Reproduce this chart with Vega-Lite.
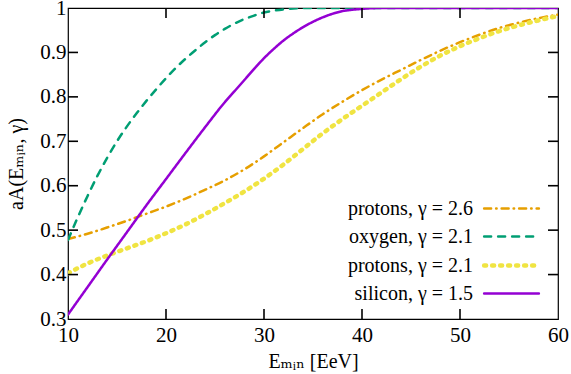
{
  "$schema": "https://vega.github.io/schema/vega-lite/v6.json",
  "width": 490,
  "height": 311,
  "autosize": "none",
  "padding": {"left": 68, "top": 8, "right": 13, "bottom": 55},
  "background": "white",
  "config": {
    "font": "Liberation Serif, Times New Roman, DejaVu Serif, serif",
    "view": {"stroke": "black", "strokeWidth": 1.2},
    "axis": {
      "grid": false,
      "domain": false,
      "ticks": false,
      "labelFont": "Liberation Serif, Times New Roman, DejaVu Serif, serif",
      "labelFontSize": 21,
      "labelColor": "black",
      "titleFont": "Liberation Serif, Times New Roman, DejaVu Serif, serif",
      "titleFontSize": 20,
      "titleFontWeight": "normal",
      "titleColor": "black"
    }
  },
  "datasets": {
    "xticks": [{"v": 20}, {"v": 30}, {"v": 40}, {"v": 50}],
    "yticks": [{"v": 0.4}, {"v": 0.5}, {"v": 0.6}, {"v": 0.7}, {"v": 0.8}, {"v": 0.9}],
    "curves": [
      {"series": "protons, γ = 2.6", "E": 10, "a": 0.480},
      {"series": "protons, γ = 2.6", "E": 12, "a": 0.492},
      {"series": "protons, γ = 2.6", "E": 14, "a": 0.506},
      {"series": "protons, γ = 2.6", "E": 16, "a": 0.521},
      {"series": "protons, γ = 2.6", "E": 18, "a": 0.537},
      {"series": "protons, γ = 2.6", "E": 20, "a": 0.553},
      {"series": "protons, γ = 2.6", "E": 22, "a": 0.571},
      {"series": "protons, γ = 2.6", "E": 24, "a": 0.591},
      {"series": "protons, γ = 2.6", "E": 26, "a": 0.612},
      {"series": "protons, γ = 2.6", "E": 28, "a": 0.637},
      {"series": "protons, γ = 2.6", "E": 30, "a": 0.666},
      {"series": "protons, γ = 2.6", "E": 32, "a": 0.698},
      {"series": "protons, γ = 2.6", "E": 34, "a": 0.730},
      {"series": "protons, γ = 2.6", "E": 36, "a": 0.761},
      {"series": "protons, γ = 2.6", "E": 38, "a": 0.789},
      {"series": "protons, γ = 2.6", "E": 40, "a": 0.815},
      {"series": "protons, γ = 2.6", "E": 42, "a": 0.839},
      {"series": "protons, γ = 2.6", "E": 44, "a": 0.861},
      {"series": "protons, γ = 2.6", "E": 46, "a": 0.883},
      {"series": "protons, γ = 2.6", "E": 48, "a": 0.904},
      {"series": "protons, γ = 2.6", "E": 50, "a": 0.923},
      {"series": "protons, γ = 2.6", "E": 52, "a": 0.940},
      {"series": "protons, γ = 2.6", "E": 54, "a": 0.955},
      {"series": "protons, γ = 2.6", "E": 56, "a": 0.967},
      {"series": "protons, γ = 2.6", "E": 58, "a": 0.977},
      {"series": "protons, γ = 2.6", "E": 60, "a": 0.985},
      {"series": "oxygen, γ = 2.1", "E": 10, "a": 0.478},
      {"series": "oxygen, γ = 2.1", "E": 11, "a": 0.529},
      {"series": "oxygen, γ = 2.1", "E": 12, "a": 0.577},
      {"series": "oxygen, γ = 2.1", "E": 13, "a": 0.622},
      {"series": "oxygen, γ = 2.1", "E": 14, "a": 0.663},
      {"series": "oxygen, γ = 2.1", "E": 15, "a": 0.700},
      {"series": "oxygen, γ = 2.1", "E": 16, "a": 0.733},
      {"series": "oxygen, γ = 2.1", "E": 17, "a": 0.763},
      {"series": "oxygen, γ = 2.1", "E": 18, "a": 0.791},
      {"series": "oxygen, γ = 2.1", "E": 19, "a": 0.817},
      {"series": "oxygen, γ = 2.1", "E": 20, "a": 0.842},
      {"series": "oxygen, γ = 2.1", "E": 21, "a": 0.865},
      {"series": "oxygen, γ = 2.1", "E": 22, "a": 0.886},
      {"series": "oxygen, γ = 2.1", "E": 23, "a": 0.905},
      {"series": "oxygen, γ = 2.1", "E": 24, "a": 0.923},
      {"series": "oxygen, γ = 2.1", "E": 25, "a": 0.939},
      {"series": "oxygen, γ = 2.1", "E": 26, "a": 0.953},
      {"series": "oxygen, γ = 2.1", "E": 27, "a": 0.965},
      {"series": "oxygen, γ = 2.1", "E": 28, "a": 0.975},
      {"series": "oxygen, γ = 2.1", "E": 29, "a": 0.983},
      {"series": "oxygen, γ = 2.1", "E": 30, "a": 0.990},
      {"series": "oxygen, γ = 2.1", "E": 31, "a": 0.994},
      {"series": "oxygen, γ = 2.1", "E": 32, "a": 0.997},
      {"series": "oxygen, γ = 2.1", "E": 33, "a": 0.999},
      {"series": "oxygen, γ = 2.1", "E": 35, "a": 1.0},
      {"series": "oxygen, γ = 2.1", "E": 45, "a": 1.0},
      {"series": "oxygen, γ = 2.1", "E": 60, "a": 1.0},
      {"series": "protons, γ = 2.1", "E": 10, "a": 0.403},
      {"series": "protons, γ = 2.1", "E": 12, "a": 0.425},
      {"series": "protons, γ = 2.1", "E": 14, "a": 0.443},
      {"series": "protons, γ = 2.1", "E": 16, "a": 0.459},
      {"series": "protons, γ = 2.1", "E": 18, "a": 0.475},
      {"series": "protons, γ = 2.1", "E": 20, "a": 0.493},
      {"series": "protons, γ = 2.1", "E": 22, "a": 0.513},
      {"series": "protons, γ = 2.1", "E": 24, "a": 0.536},
      {"series": "protons, γ = 2.1", "E": 26, "a": 0.561},
      {"series": "protons, γ = 2.1", "E": 28, "a": 0.587},
      {"series": "protons, γ = 2.1", "E": 30, "a": 0.616},
      {"series": "protons, γ = 2.1", "E": 32, "a": 0.648},
      {"series": "protons, γ = 2.1", "E": 34, "a": 0.683},
      {"series": "protons, γ = 2.1", "E": 36, "a": 0.718},
      {"series": "protons, γ = 2.1", "E": 38, "a": 0.750},
      {"series": "protons, γ = 2.1", "E": 40, "a": 0.780},
      {"series": "protons, γ = 2.1", "E": 42, "a": 0.810},
      {"series": "protons, γ = 2.1", "E": 44, "a": 0.840},
      {"series": "protons, γ = 2.1", "E": 46, "a": 0.868},
      {"series": "protons, γ = 2.1", "E": 48, "a": 0.893},
      {"series": "protons, γ = 2.1", "E": 50, "a": 0.914},
      {"series": "protons, γ = 2.1", "E": 52, "a": 0.932},
      {"series": "protons, γ = 2.1", "E": 54, "a": 0.948},
      {"series": "protons, γ = 2.1", "E": 56, "a": 0.961},
      {"series": "protons, γ = 2.1", "E": 58, "a": 0.972},
      {"series": "protons, γ = 2.1", "E": 60, "a": 0.982},
      {"series": "silicon, γ = 1.5", "E": 10, "a": 0.310},
      {"series": "silicon, γ = 1.5", "E": 12, "a": 0.372},
      {"series": "silicon, γ = 1.5", "E": 14, "a": 0.434},
      {"series": "silicon, γ = 1.5", "E": 16, "a": 0.495},
      {"series": "silicon, γ = 1.5", "E": 18, "a": 0.556},
      {"series": "silicon, γ = 1.5", "E": 20, "a": 0.615},
      {"series": "silicon, γ = 1.5", "E": 22, "a": 0.674},
      {"series": "silicon, γ = 1.5", "E": 24, "a": 0.732},
      {"series": "silicon, γ = 1.5", "E": 26, "a": 0.788},
      {"series": "silicon, γ = 1.5", "E": 27, "a": 0.813},
      {"series": "silicon, γ = 1.5", "E": 28, "a": 0.838},
      {"series": "silicon, γ = 1.5", "E": 29, "a": 0.863},
      {"series": "silicon, γ = 1.5", "E": 30, "a": 0.887},
      {"series": "silicon, γ = 1.5", "E": 31, "a": 0.908},
      {"series": "silicon, γ = 1.5", "E": 32, "a": 0.927},
      {"series": "silicon, γ = 1.5", "E": 33, "a": 0.943},
      {"series": "silicon, γ = 1.5", "E": 34, "a": 0.957},
      {"series": "silicon, γ = 1.5", "E": 35, "a": 0.969},
      {"series": "silicon, γ = 1.5", "E": 36, "a": 0.979},
      {"series": "silicon, γ = 1.5", "E": 37, "a": 0.987},
      {"series": "silicon, γ = 1.5", "E": 38, "a": 0.993},
      {"series": "silicon, γ = 1.5", "E": 39, "a": 0.996},
      {"series": "silicon, γ = 1.5", "E": 40, "a": 0.998},
      {"series": "silicon, γ = 1.5", "E": 42, "a": 1.0},
      {"series": "silicon, γ = 1.5", "E": 50, "a": 1.0},
      {"series": "silicon, γ = 1.5", "E": 60, "a": 1.0}
    ]
  },
  "layer": [
    {
      "data": {"name": "curves"},
      "mark": {"type": "line", "strokeCap": "round", "interpolate": "monotone", "clip": true},
      "encoding": {
        "x": {
          "field": "E", "type": "quantitative",
          "scale": {"domain": [10, 60], "nice": false},
          "axis": {"orient": "bottom", "values": [10, 20, 30, 40, 50, 60], "labelPadding": 5, "title": "Eₘᵢₙ [EeV]", "titlePadding": 6, "labelFlush": false}
        },
        "y": {
          "field": "a", "type": "quantitative",
          "scale": {"domain": [0.3, 1], "nice": false, "zero": false},
          "axis": {"orient": "left", "values": [0.3, 0.4, 0.5, 0.6, 0.7, 0.8, 0.9, 1], "format": "~g", "labelPadding": 2, "title": "aA(Eₘᵢₙ, γ)", "titlePadding": 13, "labelFlush": false}
        },
        "color": {
          "field": "series", "type": "nominal",
          "scale": {
            "domain": ["protons, γ = 2.6", "oxygen, γ = 2.1", "protons, γ = 2.1", "silicon, γ = 1.5"],
            "range": ["#E69F00", "#009E73", "#F0E442", "#9400D3"]
          },
          "legend": {
            "orient": "none", "legendX": 430, "legendY": 188, "title": null,
            "symbolType": "M-2.5,0H2.5", "symbolSize": 480, "symbolStrokeWidth": 2.5,
            "labelFont": "Liberation Serif, Times New Roman, DejaVu Serif, serif", "labelFontSize": 20, "labelColor": "black",
            "labelAlign": "right", "labelOffset": -52, "labelLimit": 300,
            "rowPadding": 5, "padding": 0,
            "encode": {"symbols": {"update": {"strokeCap": {"value": "round"}}}}
          }
        },
        "strokeDash": {
          "field": "series", "type": "nominal",
          "scale": {
            "domain": ["protons, γ = 2.6", "oxygen, γ = 2.1", "protons, γ = 2.1", "silicon, γ = 1.5"],
            "range": [[7, 5, 0.5, 5], [7, 7], [2, 6], [1, 0]]
          }
        },
        "strokeWidth": {
          "field": "series", "type": "nominal",
          "scale": {
            "type": "ordinal",
            "domain": ["protons, γ = 2.6", "oxygen, γ = 2.1", "protons, γ = 2.1", "silicon, γ = 1.5"],
            "range": [2.5, 2.5, 4.5, 2.5]
          }
        }
      }
    },
    {
      "data": {"name": "xticks"},
      "mark": {"type": "rule", "color": "black", "strokeWidth": 1.6, "opacity": 1},
      "encoding": {
        "x": {"field": "v", "type": "quantitative"},
        "y": {"datum": 0.3, "type": "quantitative"},
        "y2": {"datum": 0.3225}
      }
    },
    {
      "data": {"name": "xticks"},
      "mark": {"type": "rule", "color": "black", "strokeWidth": 1.6, "opacity": 1},
      "encoding": {
        "x": {"field": "v", "type": "quantitative"},
        "y": {"datum": 1, "type": "quantitative"},
        "y2": {"datum": 0.9775}
      }
    },
    {
      "data": {"name": "yticks"},
      "mark": {"type": "rule", "color": "black", "strokeWidth": 1.6, "opacity": 1},
      "encoding": {
        "x": {"datum": 10, "type": "quantitative"},
        "x2": {"datum": 11.02},
        "y": {"field": "v", "type": "quantitative"}
      }
    },
    {
      "data": {"name": "yticks"},
      "mark": {"type": "rule", "color": "black", "strokeWidth": 1.6, "opacity": 1},
      "encoding": {
        "x": {"datum": 60, "type": "quantitative"},
        "x2": {"datum": 58.98},
        "y": {"field": "v", "type": "quantitative"}
      }
    }
  ]
}
